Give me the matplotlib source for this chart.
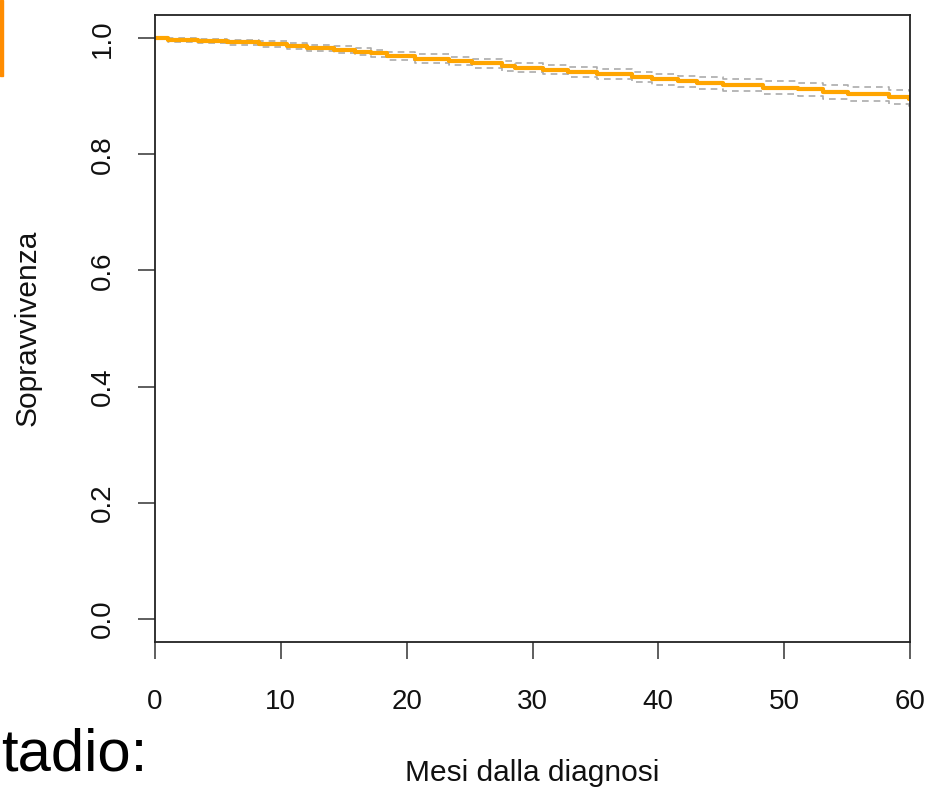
import numpy as np
import matplotlib
matplotlib.use("Agg")
import matplotlib.pyplot as plt
from matplotlib.patches import Rectangle

plt.rcParams['font.family'] = ['Liberation Sans', 'DejaVu Sans']

# curva di Kaplan-Meier
mesi = [0, 1.0, 3.4, 5.7, 8.3, 10.5, 12.1, 14.2, 15.9, 17.2, 18.4, 20.7, 23.4, 25.2, 27.6,
        28.6, 30.8, 32.8, 35.1, 37.9, 39.5, 41.6, 43.1, 45.1, 48.3, 51.1, 53.1, 55.1, 58.3, 59.9, 60]
sopr = [1.0, 0.997, 0.995, 0.993, 0.990, 0.987, 0.984, 0.980, 0.977, 0.974, 0.970, 0.965, 0.961,
        0.957, 0.952, 0.949, 0.946, 0.942, 0.938, 0.933, 0.929, 0.926, 0.923, 0.919, 0.915,
        0.912, 0.908, 0.904, 0.899, 0.896, 0.896]
sup = [1.0, 1.0, 0.999, 0.997, 0.995, 0.992, 0.989, 0.986, 0.983, 0.980, 0.977, 0.972, 0.968,
       0.964, 0.960, 0.957, 0.954, 0.950, 0.947, 0.942, 0.938, 0.935, 0.933, 0.929, 0.926,
       0.923, 0.919, 0.916, 0.911, 0.909, 0.909]
inf = [1.0, 0.994, 0.991, 0.988, 0.985, 0.982, 0.978, 0.974, 0.971, 0.967, 0.963, 0.958, 0.954,
       0.949, 0.944, 0.941, 0.938, 0.933, 0.929, 0.924, 0.920, 0.916, 0.913, 0.909, 0.904,
       0.901, 0.896, 0.892, 0.887, 0.884, 0.884]

xticks = [0, 10, 20, 30, 40, 50, 60]
yticks = [0.0, 0.2, 0.4, 0.6, 0.8, 1.0]

W, H = 928, 790
fig = plt.figure(figsize=(W / 100, H / 100), dpi=100)
ax = fig.add_axes([155 / W, 1 - 642 / H, 755 / W, 627 / H])

ax.step(mesi, sup, where='post', color='#ababab', lw=1.2, ls=(0, (4, 3)))
ax.step(mesi, inf, where='post', color='#ababab', lw=1.2, ls=(0, (4, 3)))
ax.step(mesi, sopr, where='post', color='#ffa500', lw=3)

ax.set_xlim(0, 60)
ax.set_ylim(-0.04, 1.04)
ax.set_xticks(xticks)
ax.set_xticklabels([str(v) for v in xticks], fontsize=20)
ax.set_yticks(yticks)
ax.set_yticklabels(["%.1f" % v for v in yticks], fontsize=20, rotation=90, va='center')
ax.tick_params(length=12, width=1.1, color='#333333', labelcolor='#111111')
ax.tick_params(axis='x', pad=22)
ax.tick_params(axis='y', pad=16)
for s in ax.spines.values():
    s.set_linewidth(1.3)
    s.set_color('#222222')

fig.text(532 / W, 1 - 773 / H, "Mesi dalla diagnosi", ha='center', va='center',
         fontsize=21.5, color='#111111')
fig.text(28 / W, 1 - 328 / H, "Sopravvivenza", ha='center', va='center',
         rotation=90, fontsize=21.5, color='#111111')

# frammenti della slide attorno al grafico
fig.text(1 / W, 1 - 755 / H, "tadio:", ha='left', va='center', fontsize=43, color='black')
fig.patches.append(Rectangle((0, 1 - 76 / H), 3 / W, 76 / H, transform=fig.transFigure,
                             color='#ff8c00'))

fig.savefig("out.png", dpi=100)
